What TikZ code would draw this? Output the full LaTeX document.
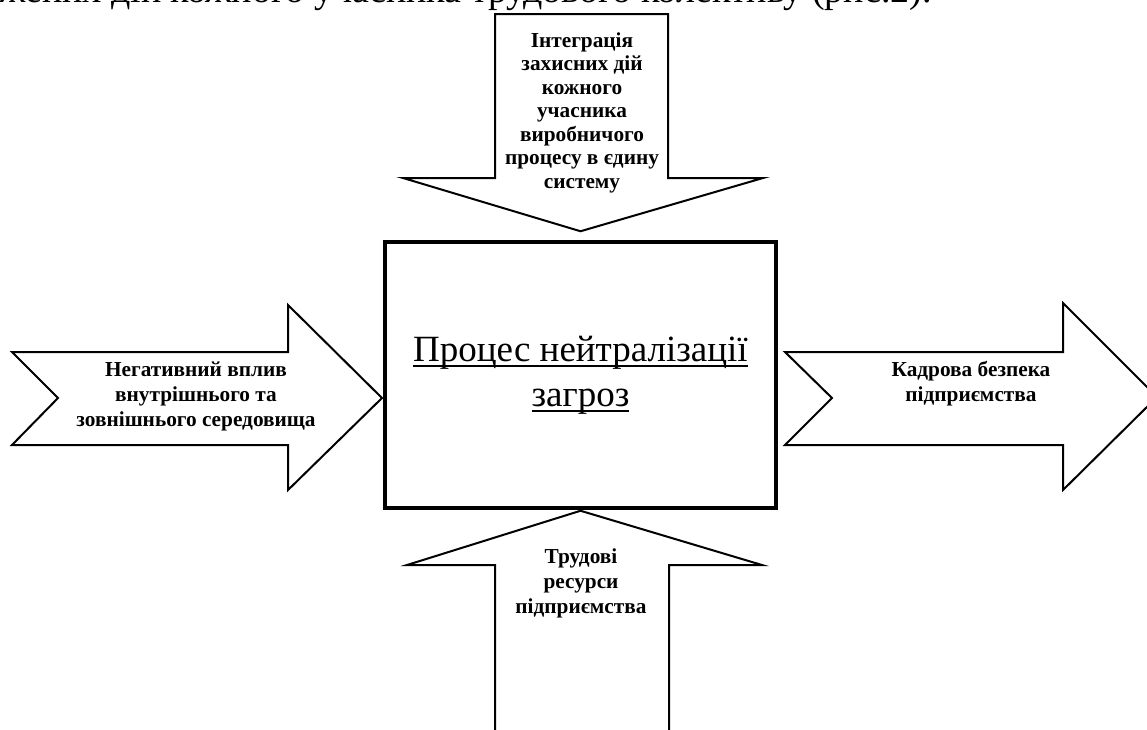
\documentclass[tikz,border=0pt]{standalone}
\usepackage{fontspec}
\setmainfont{Liberation Serif}
% underline set close under the baseline, crossing the descenders
\newcommand\closeuline[1]{\setbox0\hbox{#1}\rlap{\rule[-5.5pt]{\wd0}{1.8pt}}\box0}
\tikzset{
  blockarrow/.style={draw=black, line width=2pt, fill=white, line join=miter},
  arrowtext/.style={font=\fontsize{21.3}{25}\selectfont\bfseries, align=center, inner sep=0pt, anchor=base},
  procbox/.style={draw=black, line width=3.5pt, minimum width=391pt, minimum height=266pt,
                  inner sep=0pt, font=\fontsize{37}{46}\selectfont, align=center},
}
\begin{document}
\begin{tikzpicture}[x=1pt,y=-1pt]
\useasboundingbox (0,0) rectangle (1147,729);

% closing line of the preceding paragraph
\node[anchor=base east, font=\fontsize{38}{44}\selectfont, inner sep=0pt] (intro) at (932,2)
  {жених дій кожного учасника трудового колективу (рис.2).};

% central process block
\node[procbox] (proc) at (580.5,375) {\closeuline{Процес нейтралізації}\\[-1pt]\closeuline{загроз}};

% block arrow from above (labels are placed by the baseline of their last line)
\coordinate (toptip) at ([yshift=9pt]proc.north);
\draw[blockarrow] (495,14) -- (668,14) -- (668,178) -- (763,178) -- (toptip)
  -- (403,178) -- (495,178) -- cycle;
\node[arrowtext, font=\fontsize{21.3}{23.5}\selectfont\bfseries] (toplbl) at (582,188)
  {Інтеграція\\захисних дій\\кожного\\учасника\\виробничого\\процесу в єдину\\систему};

% block arrow from below
\coordinate (bottip) at ([yshift=-1pt]proc.south);
\draw[blockarrow] (495,745) -- (495,565) -- (407,565) -- (bottip) -- (762,565)
  -- (669,565) -- (669,745);
\node[arrowtext] (botlbl) at (581,613) {Трудові\\ресурси\\підприємства};

% block arrow from the left
\coordinate (lefttip) at (382,398);
\draw[blockarrow] (12,352) -- (288,352) -- (288,305) -- (lefttip) -- (288,490)
  -- (288,445) -- (12,445) -- (58,398) -- cycle;
\node[arrowtext] (leftlbl) at (196,426)
  {Негативний вплив\\внутрішнього та\\зовнішнього середовища};

% block arrow to the right
\coordinate (righttip) at (1157,397);
\draw[blockarrow] (785,352) -- (1063,352) -- (1063,303) -- (righttip) -- (1063,490)
  -- (1063,445) -- (785,445) -- (832,398) -- cycle;
\node[arrowtext] (rightlbl) at (971,401) {Кадрова безпека\\підприємства};
\end{tikzpicture}
\end{document}
